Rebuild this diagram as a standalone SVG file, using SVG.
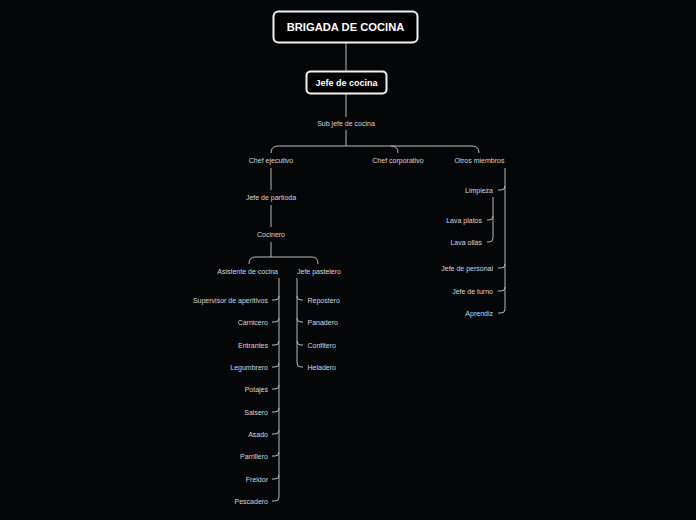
<svg xmlns="http://www.w3.org/2000/svg" width="696" height="520" viewBox="0 0 696 520">
<style>
.bg{fill:#050608}
.box{fill:#000;stroke:#f2f2f2;stroke-width:2}
.t{font-family:"Liberation Sans",Arial,sans-serif;fill:#e6e6e6}
.title{font-size:11.2px;font-weight:bold;fill:#fff}
.sub{font-size:9px;font-weight:bold;fill:#fff}
.lbl{font-size:7px;fill:#d8d8d8}
.c{text-anchor:middle}
.r{text-anchor:end}
.l{text-anchor:start}
#connectors path,#connectors line{fill:none;stroke:#b8b8b8;stroke-width:1}
</style>
<rect class="bg" x="0" y="0" width="696" height="520"/>
<g id="connectors">
<line x1="346" y1="42" x2="346" y2="71"/>
<line x1="346" y1="93" x2="346" y2="117"/>
<path d="M346,130 V146"/>
<path d="M271,153 Q271,146 278,146 H472 Q479,146 479,153"/>
<path d="M391,146 Q398,146 398,153"/>
<line x1="271" y1="168" x2="271" y2="190"/>
<line x1="271" y1="205" x2="271" y2="227"/>
<path d="M271,242 V257"/>
<path d="M249,264 Q249,257 255,257 H312 Q318,257 318,264"/>
<!-- Asistente trunk -->
<path d="M279,278 V497"/>
<path d="M279,296 Q279,300 275,300 H272"/>
<path d="M279,318 Q279,322 275,322 H272"/>
<path d="M279,341 Q279,345 275,345 H272"/>
<path d="M279,363 Q279,367 275,367 H272"/>
<path d="M279,385 Q279,389 275,389 H272"/>
<path d="M279,408 Q279,412 275,412 H272"/>
<path d="M279,430 Q279,434 275,434 H272"/>
<path d="M279,452 Q279,456 275,456 H272"/>
<path d="M279,475 Q279,479 275,479 H272"/>
<path d="M279,497 Q279,501 275,501 H272"/>
<!-- Jefe pastelero trunk -->
<path d="M297,278 V363"/>
<path d="M297,296 Q297,300 301,300 H303"/>
<path d="M297,318 Q297,322 301,322 H303"/>
<path d="M297,341 Q297,345 301,345 H303"/>
<path d="M297,363 Q297,367 301,367 H303"/>
<!-- Otros trunk -->
<path d="M505,168 V309"/>
<path d="M505,186 Q505,190 501,190 H498"/>
<path d="M505,264 Q505,268 501,268 H498"/>
<path d="M505,287 Q505,291 501,291 H498"/>
<path d="M505,309 Q505,313 501,313 H498"/>
<!-- Limpieza trunk -->
<path d="M493,197 V238"/>
<path d="M493,216 Q493,220 489,220 H487"/>
<path d="M493,238 Q493,242 489,242 H487"/>
</g>
<g id="root"><rect class="box" x="273.5" y="11.5" width="144" height="31" rx="5"/><text class="t title c" x="345.5" y="31">BRIGADA DE COCINA</text></g>
<g id="jefe-cocina"><rect class="box" x="306.5" y="71.5" width="80" height="22" rx="4"/><text class="t sub c" x="346.5" y="86">Jefe de cocina</text></g>
<g id="sub-jefe"><text class="t lbl c" x="346" y="125.5">Sub jefe de cocina</text></g>
<g id="chef-ejecutivo"><text class="t lbl c" x="271" y="162.5">Chef ejecutivo</text></g>
<g id="chef-corporativo"><text class="t lbl c" x="398" y="162.5">Chef corporativo</text></g>
<g id="otros-miembros"><text class="t lbl c" x="479.5" y="162.5">Otros miembros</text></g>
<g id="jefe-partioda"><text class="t lbl c" x="271" y="199.5">Jefe de partioda</text></g>
<g id="cocinero"><text class="t lbl c" x="271" y="236.5">Cocinero</text></g>
<g id="asistente"><text class="t lbl r" x="278" y="273.5">Asistente de cocina</text></g>
<g id="jefe-pastelero"><text class="t lbl l" x="297" y="273.5">Jefe pastelero</text></g>
<g id="supervisor"><text class="t lbl r" x="268" y="302.5">Supervisor de aperitivos</text></g>
<g id="carnicero"><text class="t lbl r" x="268" y="324.5">Carnicero</text></g>
<g id="entrantes"><text class="t lbl r" x="268" y="347.5">Entrantes</text></g>
<g id="legumbrero"><text class="t lbl r" x="268" y="369.5">Legumbrero</text></g>
<g id="potajes"><text class="t lbl r" x="268" y="391.5">Potajes</text></g>
<g id="salsero"><text class="t lbl r" x="268" y="414.5">Salsero</text></g>
<g id="asado"><text class="t lbl r" x="268" y="436.5">Asado</text></g>
<g id="parrillero"><text class="t lbl r" x="268" y="458.5">Parrillero</text></g>
<g id="freidor"><text class="t lbl r" x="268" y="481.5">Freidor</text></g>
<g id="pescadero"><text class="t lbl r" x="268" y="503.5">Pescadero</text></g>
<g id="repostero"><text class="t lbl l" x="307.5" y="302.5">Repostero</text></g>
<g id="panadero"><text class="t lbl l" x="307.5" y="324.5">Panadero</text></g>
<g id="confitero"><text class="t lbl l" x="307.5" y="347.5">Confitero</text></g>
<g id="heladero"><text class="t lbl l" x="307.5" y="369.5">Heladero</text></g>
<g id="limpieza"><text class="t lbl r" x="493" y="192.5">Limpieza</text></g>
<g id="lava-platos"><text class="t lbl r" x="482" y="222.5">Lava platos</text></g>
<g id="lava-ollas"><text class="t lbl r" x="482" y="244.5">Lava ollas</text></g>
<g id="jefe-personal"><text class="t lbl r" x="493" y="270.5">Jefe de personal</text></g>
<g id="jefe-turno"><text class="t lbl r" x="493" y="293.5">Jefe de turno</text></g>
<g id="aprendiz"><text class="t lbl r" x="493" y="315.5">Aprendiz</text></g>
</svg>
